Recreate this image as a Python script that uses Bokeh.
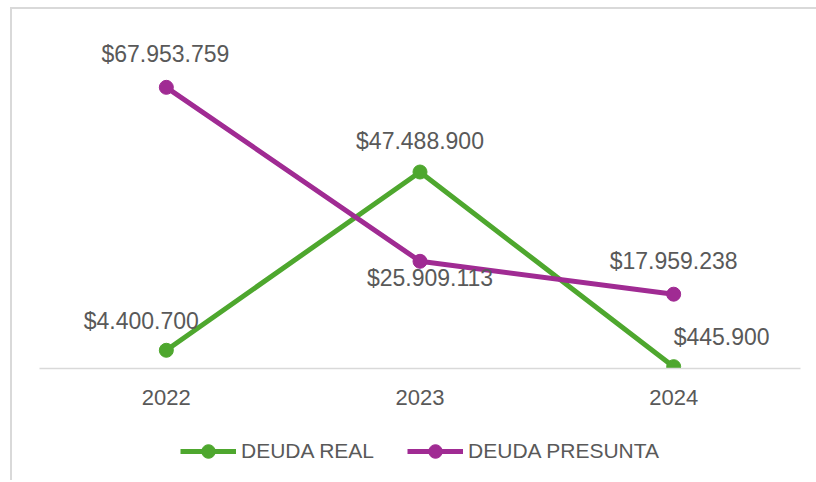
from bokeh.plotting import figure
from bokeh.layouts import column
from bokeh.models import ColumnDataSource, Range1d, Legend, LegendItem
from bokeh.core.properties import value
from bokeh.embed import file_html
from bokeh.resources import INLINE

# ---- data ----
years = ["2022", "2023", "2024"]
deuda_real = [4400700, 47488900, 445900]
deuda_presunta = [67953759, 25909113, 17959238]
series_names = ["DEUDA REAL", "DEUDA PRESUNTA"]

# label placement (screen px offsets from each point)
real_dx = [-25, 0, 48]
real_dy = [-29, -31, -30]
pres_dx = [-1, 10, 0]
pres_dy = [-33, 17, -33]

GREEN = "#4EA72E"
PURPLE = "#A02B93"
TEXT = "#595959"
FONT = "Liberation Sans"


def fmt(v):
    return "$" + f"{v:,}".replace(",", ".")


src_real = ColumnDataSource(dict(x=years, y=deuda_real,
                                 lab=[fmt(v) for v in deuda_real],
                                 dx=real_dx, dy=real_dy))
src_pres = ColumnDataSource(dict(x=years, y=deuda_presunta,
                                 lab=[fmt(v) for v in deuda_presunta],
                                 dx=pres_dx, dy=pres_dy))

# ---- main chart ----
p = figure(width=804, height=416, x_range=years, y_range=Range1d(0, 80000000),
           output_backend="svg", toolbar_location=None, y_axis_location=None,
           min_border_left=27, min_border_right=16, min_border_top=28,
           min_border_bottom=57)
p.outline_line_color = None
p.background_fill_color = "white"
p.border_fill_color = "white"
p.xgrid.visible = False
p.ygrid.visible = False

ax = p.xaxis[0]
ax.axis_line_color = "#d9d9d9"
ax.axis_line_width = 1.5
ax.major_tick_line_color = None
ax.minor_tick_line_color = None
ax.major_tick_in = 0
ax.major_tick_out = 0
ax.major_label_standoff = 21
ax.major_label_text_font = FONT
ax.major_label_text_font_size = "22px"
ax.major_label_text_color = TEXT

l1 = p.line("x", "y", source=src_real, line_color=GREEN, line_width=5)
m1 = p.scatter("x", "y", source=src_real, size=14, fill_color=GREEN, line_color=GREEN)
l2 = p.line("x", "y", source=src_pres, line_color=PURPLE, line_width=5)
m2 = p.scatter("x", "y", source=src_pres, size=14, fill_color=PURPLE, line_color=PURPLE)

for src in (src_real, src_pres):
    p.text("x", "y", text="lab", source=src, x_offset="dx", y_offset="dy",
           text_align="center", text_baseline="middle",
           text_font=value(FONT), text_font_size="23px", text_color=TEXT)

# ---- legend strip (legend-only figure; swatch glyphs sit outside its view) ----
q = figure(width=804, height=57, x_range=Range1d(0, 1), y_range=Range1d(0, 1),
           output_backend="svg", toolbar_location=None,
           x_axis_location=None, y_axis_location=None, min_border=0)
q.outline_line_color = None
q.xgrid.visible = False
q.ygrid.visible = False
q.border_fill_color = "white"
off = [-10, -9]
ql1 = q.line(x=off, y=off, line_color=GREEN, line_width=5)
qm1 = q.scatter(x=off, y=off, size=14, fill_color=GREEN, line_color=GREEN)
ql2 = q.line(x=off, y=off, line_color=PURPLE, line_width=5)
qm2 = q.scatter(x=off, y=off, size=14, fill_color=PURPLE, line_color=PURPLE)

legend = Legend(items=[LegendItem(label=series_names[0], renderers=[ql1, qm1]),
                       LegendItem(label=series_names[1], renderers=[ql2, qm2])],
                location=(141, 14), orientation="horizontal",
                glyph_width=56, glyph_height=34, label_standoff=5, spacing=33,
                padding=4, border_line_color=None, background_fill_alpha=0,
                label_text_font=FONT, label_text_font_size="21px",
                label_text_color=TEXT)
q.add_layout(legend, "center")

layout = column(p, q, spacing=0, margin=(9, 0, 0, 12),
                styles={"box-shadow": "-2px -2px 0 0 #d9d9d9, 2px -2px 0 0 #d9d9d9"})

open("out.html", "w").write(file_html(layout, INLINE))
